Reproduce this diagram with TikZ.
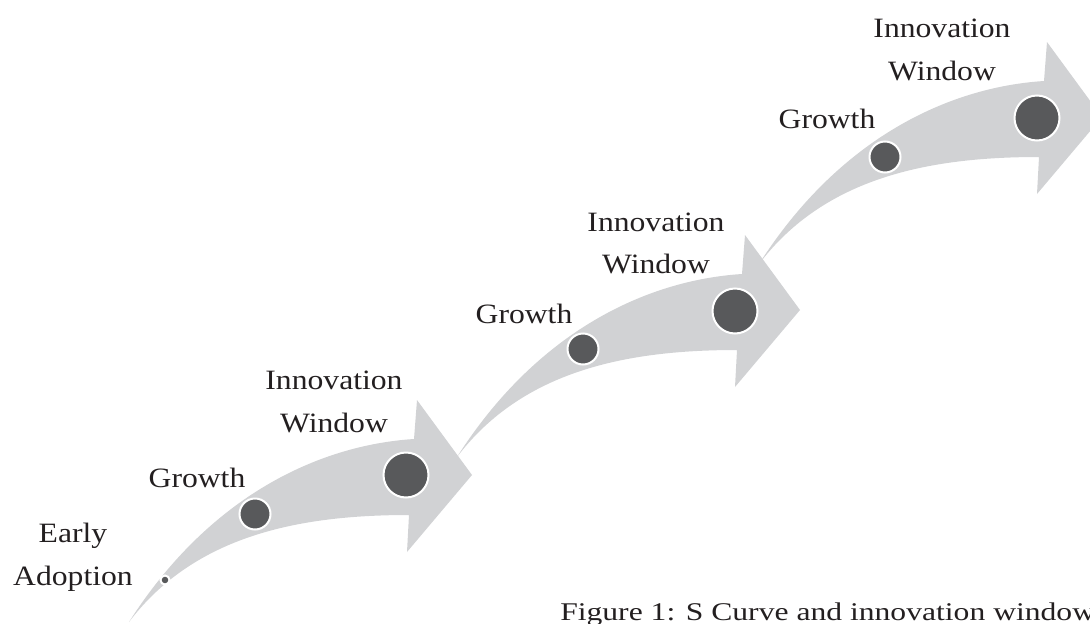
\documentclass[tikz,border=0pt]{standalone}
\usepackage{fontspec}
\setmainfont{Liberation Serif}
\definecolor{arrowgray}{HTML}{D1D2D4}
\definecolor{dotgray}{HTML}{58595B}
\definecolor{txt}{HTML}{231F20}
\tikzset{
  sarrow/.pic={
    \fill[arrowgray] (0,0) .. controls (81,-127) and (191,-177) .. (285,-183)
      -- (288,-222) -- (343,-147) -- (278,-70) -- (280,-107)
      .. controls (171,-107) and (66,-87) .. (0,0) -- cycle;
  },
  sdot/.style={circle, fill=dotgray, draw=white, line width=2pt, inner sep=0pt},
  lbl/.style={anchor=base, text=txt, font=\fontsize{28}{32}\selectfont, xscale=1.13, inner sep=0pt},
  captext/.style={anchor=base west, text=txt, font=\fontsize{25.5}{30}\selectfont, xscale=1.24, inner sep=0pt}
}
\begin{document}
\begin{tikzpicture}[x=1pt,y=-1pt]
\useasboundingbox (0,0) rectangle (1090,624);
\clip (0,0) rectangle (1090,624);
% arrows
\pic at (129,622) {sarrow};
\pic at (457,457) {sarrow};
\pic at (759,264) {sarrow};
% dots of arrow 1
\node[sdot, minimum size=9pt] (ea) at (165,580) {};
\node[sdot, minimum size=31pt] (g1) at (255,514) {};
\node[sdot, minimum size=45pt] (w1) at (406,475) {};
% dots of arrow 2
\node[sdot, minimum size=31pt] (g2) at (583,349) {};
\node[sdot, minimum size=45pt] (w2) at (735,311) {};
% dots of arrow 3
\node[sdot, minimum size=31pt] (g3) at (885,157) {};
\node[sdot, minimum size=45pt] (w3) at (1037,118) {};
% labels
\node[lbl] (t0a) at (73,542) {Early};
\node[lbl] (t0b) at (73,585) {Adoption};
\node[lbl] (t1g) at (197,487) {Growth};
\node[lbl] (t1a) at (334,389) {Innovation};
\node[lbl] (t1b) at (334,432) {Window};
\node[lbl] (t2g) at (524,323) {Growth};
\node[lbl] (t2a) at (656,231) {Innovation};
\node[lbl] (t2b) at (656,273) {Window};
\node[lbl] (t3g) at (827,128) {Growth};
\node[lbl] (t3a) at (942,37) {Innovation};
\node[lbl] (t3b) at (942,80) {Window};
\node[captext] (caption) at (560,620) {Figure 1: S Curve and innovation window};
\end{tikzpicture}
\end{document}
